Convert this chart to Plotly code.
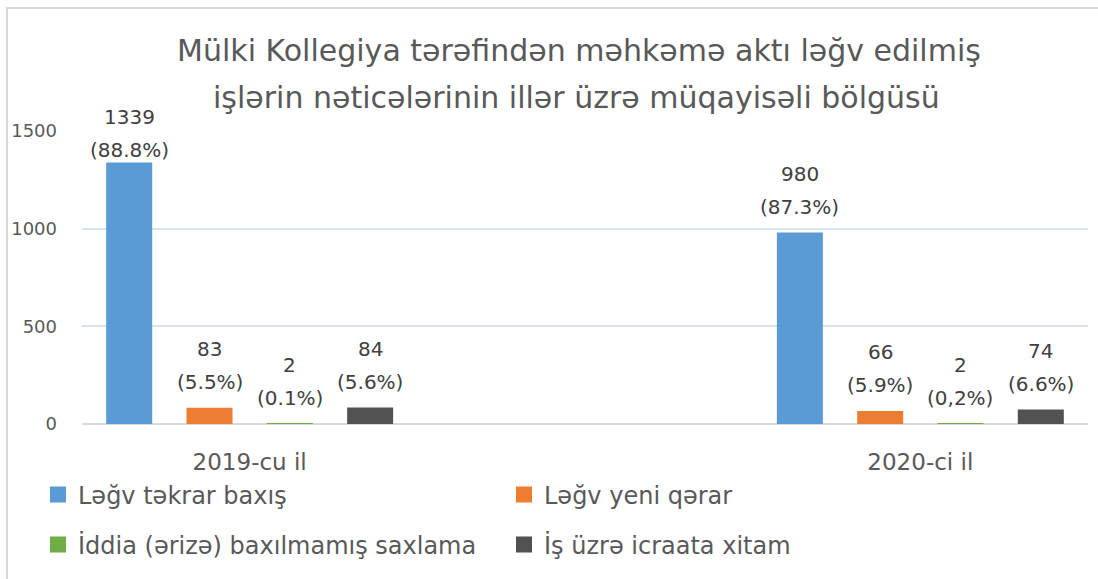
import plotly.graph_objects as go

# ---------------- data ----------------
categories = ["2019-cu il", "2020-ci il"]
series_names = ["Ləğv təkrar baxış", "Ləğv yeni qərar",
                "İddia (ərizə) baxılmamış saxlama", "İş üzrə icraata xitam"]
values_tekrar = [1339, 980]
values_yeni = [83, 66]
values_iddia = [2, 2]
values_xitam = [84, 74]
pct_tekrar = ["88.8%", "87.3%"]
pct_yeni = ["5.5%", "5.9%"]
pct_iddia = ["0.1%", "0,2%"]
pct_xitam = ["5.6%", "6.6%"]
y_ticks = [0, 500, 1000, 1500]
title_line1 = "Mülki Kollegiya tərəfindən məhkəmə aktı ləğv edilmiş"
title_line2 = "işlərin nəticələrinin illər üzrə müqayisəli bölgüsü"

# ---------------- style ----------------
colors = ["#5B9BD5", "#ED7D31", "#70AD47", "#525252"]
FONT = "DejaVu Sans"
TEXT_GRAY = "#595959"
LABEL_GRAY = "#404040"
W, H = 1098, 579
ML, MR, MT, MB = 82, 10, 131, 155
BARGAP = 0.521
BARGROUPGAP = 0.427
PCT_LIFT = 26      # px above bar top (centre of percent line)
VAL_LIFT = 59      # px above bar top (centre of value line)
nudge = {(0, 0): -14}   # the 1339 label sits lower (manually moved in source)

all_values = [values_tekrar, values_yeni, values_iddia, values_xitam]
all_pcts = [pct_tekrar, pct_yeni, pct_iddia, pct_xitam]

plot_w = W - ML - MR
plot_h = H - MT - MB
def px_to_paper_x(px):
    return (px - ML) / plot_w
def px_to_paper_y(py):
    return (H - MB - py) / plot_h

fig = go.Figure()
for k, (name, vals) in enumerate(zip(series_names, all_values)):
    fig.add_trace(go.Bar(
        x=categories, y=vals, name=name,
        marker=dict(color=colors[k], line=dict(width=0)),
        showlegend=False, hoverinfo="skip",
    ))
# legend entries (square swatches)
for k, name in enumerate(series_names):
    fig.add_trace(go.Scatter(
        x=[None], y=[None], mode="markers", name=name,
        marker=dict(symbol="square", size=16, color=colors[k]),
        legend="legend" if k < 2 else "legend2", hoverinfo="skip",
    ))

# data labels via annotations (two lines each)
n = len(series_names)
slot = (1 - BARGAP) / n
annotations = []
for k in range(n):
    for i, cat in enumerate(categories):
        xpos = i + (k - (n - 1) / 2) * slot
        v = all_values[k][i]
        extra = nudge.get((k, i), 0)
        annotations.append(dict(
            x=xpos, y=v, xref="x", yref="y", text=str(v), showarrow=False,
            yanchor="middle", yshift=VAL_LIFT + extra,
            font=dict(family=FONT, size=20, color=LABEL_GRAY)))
        annotations.append(dict(
            x=xpos, y=v, xref="x", yref="y", text="(" + all_pcts[k][i] + ")",
            showarrow=False, yanchor="middle", yshift=PCT_LIFT + extra,
            font=dict(family=FONT, size=20, color=LABEL_GRAY)))

# second title line
annotations.append(dict(
    x=px_to_paper_x(576), y=px_to_paper_y(97), xref="paper", yref="paper",
    text=title_line2, showarrow=False, xanchor="center", yanchor="middle",
    font=dict(family=FONT, size=30, color=TEXT_GRAY)))

legend_common = dict(
    orientation="h", xref="container", yref="container",
    xanchor="left", yanchor="middle",
    entrywidth=421, entrywidthmode="pixels",
    font=dict(family=FONT, size=24, color=TEXT_GRAY),
    bgcolor="rgba(0,0,0,0)", borderwidth=0,
    itemclick=False, itemdoubleclick=False,
)

fig.update_layout(
    width=W, height=H,
    margin=dict(l=ML, r=MR, t=MT, b=MB, autoexpand=False),
    paper_bgcolor="white", plot_bgcolor="white",
    font=dict(family=FONT, color=TEXT_GRAY),
    title=dict(text=title_line1, x=579 / W, xanchor="center", xref="container",
               y=1 - 50 / H, yanchor="middle", yref="container",
               font=dict(family=FONT, size=30, color=TEXT_GRAY)),
    barmode="group", bargap=BARGAP, bargroupgap=BARGROUPGAP,
    xaxis=dict(type="category", range=[-0.25, 1.25], showgrid=False,
               showline=False, zeroline=False, ticks="",
               tickfont=dict(family=FONT, size=23, color=TEXT_GRAY),
               ticklabelstandoff=22, fixedrange=True),
    yaxis=dict(range=[0, 1500], tickvals=y_ticks, showgrid=True,
               gridcolor="#D6E4F2", gridwidth=2, zeroline=True,
               zerolinecolor="#D9D9D9", zerolinewidth=2, showline=False,
               ticks="", tickfont=dict(family=FONT, size=18, color=TEXT_GRAY),
               ticklabelstandoff=24, fixedrange=True),
    legend=dict(legend_common, x=38 / W, y=1 - 495 / H),
    legend2=dict(legend_common, x=38 / W, y=1 - 545 / H),
    annotations=annotations,
    shapes=[dict(type="rect", xref="paper", yref="paper",
                 x0=px_to_paper_x(7), x1=px_to_paper_x(1110),
                 y0=px_to_paper_y(600), y1=px_to_paper_y(8),
                 line=dict(color="#D9D9D9", width=2), fillcolor="rgba(0,0,0,0)",
                 layer="below")],
    showlegend=True,
)

fig.write_html("out.html", config={"displayModeBar": False},
               post_script="document.body.style.margin='0';")
